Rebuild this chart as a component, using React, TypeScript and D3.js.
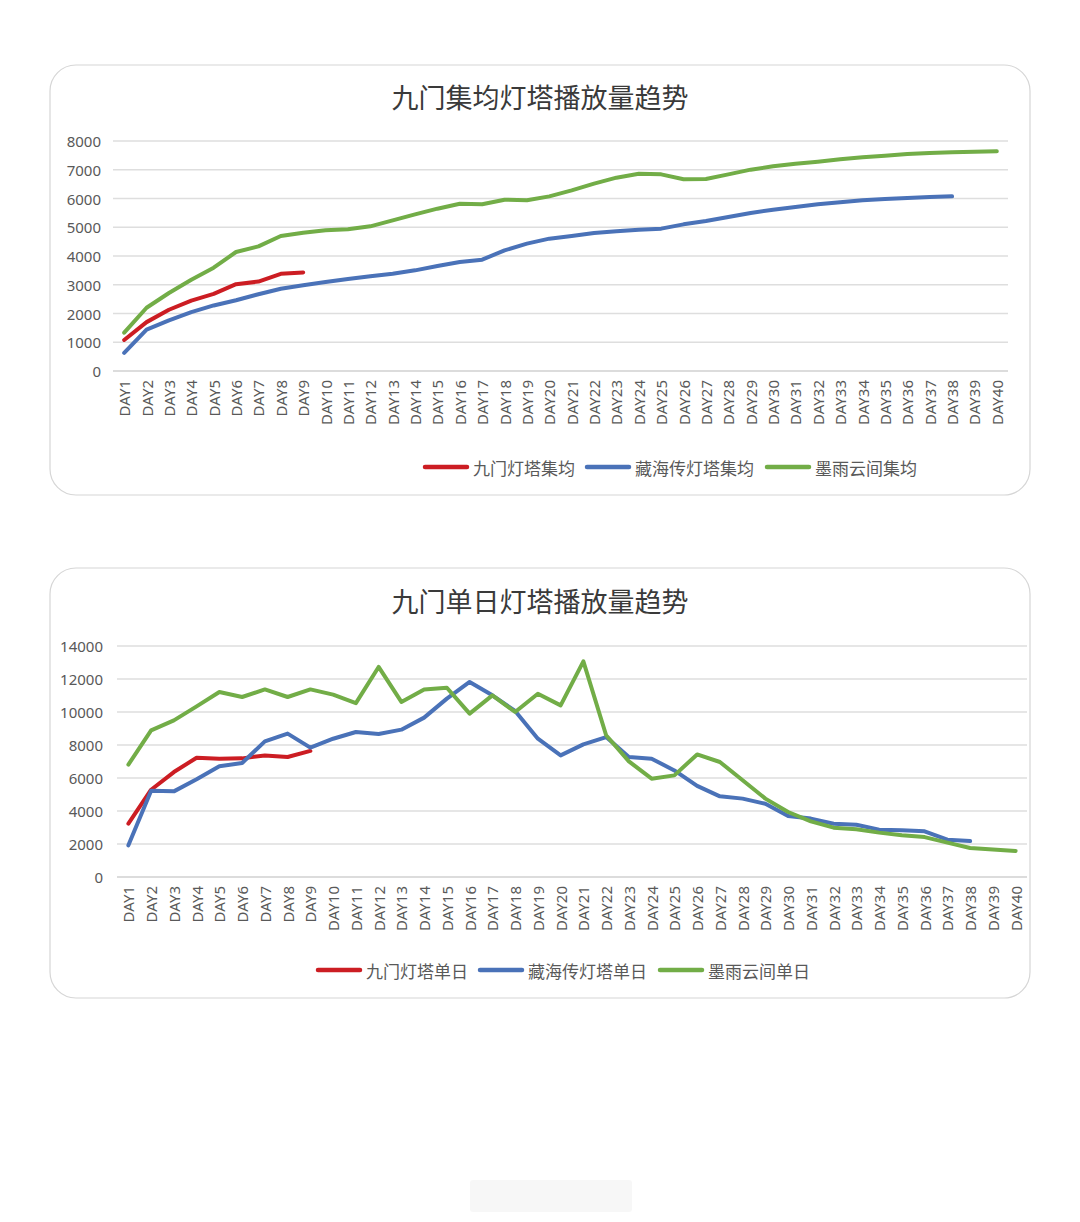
import React from 'react';
import * as d3 from 'd3';

// categories
const days = d3.range(1, 41).map(d => `DAY${d}`);

// cumulative average (集均)
const jiumenAvg = [1080, 1700, 2130, 2450, 2680, 3020, 3110, 3380, 3430];
const canghaiAvg = [
  630, 1440, 1760, 2050, 2280, 2460, 2670, 2860, 2980, 3096,
  3200, 3293, 3385, 3501, 3652, 3791, 3872, 4197, 4429, 4603,
  4696, 4800, 4858, 4916, 4951, 5101, 5217, 5356, 5495, 5611,
  5704, 5797, 5867, 5936, 5980, 6020, 6050, 6075,
];
const moyuAvg = [
  1333, 2200, 2713, 3177, 3594, 4139, 4336, 4696, 4812, 4893,
  4928, 5032, 5240, 5449, 5646, 5820, 5800, 5959, 5936, 6075,
  6284, 6516, 6724, 6864, 6840, 6670, 6680, 6840, 7003, 7119,
  7211, 7281, 7362, 7432, 7490, 7548, 7582, 7606, 7629, 7645,
];

// daily (单日)
const jiumenDaily = [3230, 5290, 6360, 7230, 7170, 7190, 7370, 7270, 7640];
const canghaiDaily = [
  1920, 5230, 5190, 5920, 6710, 6910, 8220, 8690, 7840, 8380,
  8790, 8670, 8930, 9660, 10810, 11820, 11010, 10060, 8380, 7370,
  8040, 8480, 7270, 7170, 6460, 5520, 4890, 4750, 4440, 3700,
  3540, 3230, 3170, 2870, 2830, 2770, 2260, 2180,
];
const moyuDaily = [
  6810, 8890, 9490, 10340, 11210, 10910, 11370, 10910, 11370, 11050,
  10540, 12730, 10610, 11370, 11470, 9900, 11010, 10000, 11110, 10400,
  13070, 8590, 7010, 5960, 6160, 7430, 6970, 5860, 4750, 3940,
  3370, 2990, 2890, 2690, 2530, 2420, 2080, 1760, 1660, 1580,
];

const avgTicks = d3.range(0, 8001, 1000);
const dailyTicks = d3.range(0, 14001, 2000);

const avgNames = ['九门灯塔集均', '藏海传灯塔集均', '墨雨云间集均'];
const dailyNames = ['九门灯塔单日', '藏海传灯塔单日', '墨雨云间单日'];

const COLORS = ['#cc1d23', '#4a72b8', '#72ad47'];
const LABEL = '#595959';
const FONT = '"Noto Sans", "Noto Sans CJK SC", sans-serif';
const CJK = '"Noto Sans CJK SC", sans-serif';

interface ChartProps {
  title: string;
  names: string[];
  series: number[][];
  ticks: number[];
  card: { x: number; y: number; w: number; h: number };
  plot: { left: number; right: number; top: number; bottom: number };
  titleY: number;
  labelEnd: number;
  legendX: number;
  legendY: number;
}

const Chart: React.FC<ChartProps> = ({ title, names, series, ticks, card, plot, titleY, labelEnd, legendX, legendY }) => {
  const x = d3.scaleBand<string>().domain(days).range([plot.left, plot.right]);
  const y = d3.scaleLinear().domain([0, ticks[ticks.length - 1]]).range([plot.bottom, plot.top]);
  const cx = (i: number) => (x(days[i]) || 0) + x.bandwidth() / 2;
  const line = d3.line<number>().x((_, i) => cx(i)).y(d => y(d));

  // legend layout
  let lx = legendX;
  const items = names.map((n, i) => {
    const item = { x: lx, name: n, color: COLORS[i] };
    lx += 42 + 6 + n.length * 18 + 6;
    return item;
  });

  return (
    <g>
      <rect x={card.x} y={card.y} width={card.w} height={card.h} rx={26} fill="#fff" stroke="#d6d6d6" strokeWidth={1.2} />
      <text x={540} y={titleY} textAnchor="middle" dominantBaseline="central" fontFamily={CJK} fontSize={27} fill="#3a3a3a">
        {title}
      </text>
      {ticks.map(t => (
        <g key={t}>
          <line x1={plot.left} x2={plot.right} y1={y(t)} y2={y(t)} stroke={t === 0 ? '#d0d0d0' : '#dedede'} strokeWidth={1.3} />
          <text x={labelEnd} y={y(t)} textAnchor="end" dominantBaseline="central" fontFamily={FONT} fontSize={15} fill={LABEL}>
            {t}
          </text>
        </g>
      ))}
      {days.map((d, i) => (
        <text
          key={d}
          transform={`translate(${cx(i)},${plot.bottom + 9}) rotate(-90)`}
          textAnchor="end"
          dominantBaseline="central"
          fontFamily={FONT}
          fontSize={15}
          fill={LABEL}
        >
          {d}
        </text>
      ))}
      {series.map((s, i) => (
        <path key={i} d={line(s) || ''} fill="none" stroke={COLORS[i]} strokeWidth={4} strokeLinejoin="round" strokeLinecap="round" />
      ))}
      {items.map(it => (
        <g key={it.name}>
          <line x1={it.x} x2={it.x + 42} y1={legendY} y2={legendY} stroke={it.color} strokeWidth={4.5} strokeLinecap="round" />
          <text x={it.x + 48} y={legendY} dominantBaseline="central" fontFamily={CJK} fontSize={17} fill={LABEL}>
            {it.name}
          </text>
        </g>
      ))}
    </g>
  );
};

export default function App() {
  return (
    <svg width={1080} height={1222} style={{ position: 'absolute', left: 0, top: 0, background: '#fff' }}>
      <rect width={1080} height={1222} fill="#fff" />
      <Chart
        title="九门集均灯塔播放量趋势"
        names={avgNames}
        series={[jiumenAvg, canghaiAvg, moyuAvg]}
        ticks={avgTicks}
        card={{ x: 50, y: 65, w: 980, h: 430 }}
        plot={{ left: 113, right: 1008, top: 141, bottom: 371 }}
        titleY={96}
        labelEnd={101}
        legendX={425}
        legendY={467}
      />
      <Chart
        title="九门单日灯塔播放量趋势"
        names={dailyNames}
        series={[jiumenDaily, canghaiDaily, moyuDaily]}
        ticks={dailyTicks}
        card={{ x: 50, y: 568, w: 980, h: 430 }}
        plot={{ left: 117, right: 1027, top: 646, bottom: 877 }}
        titleY={600}
        labelEnd={103}
        legendX={318}
        legendY={970}
      />
      <rect x={470} y={1180} width={162} height={32} rx={3} fill="#f4f4f4" opacity={0.7} />
    </svg>
  );
}
